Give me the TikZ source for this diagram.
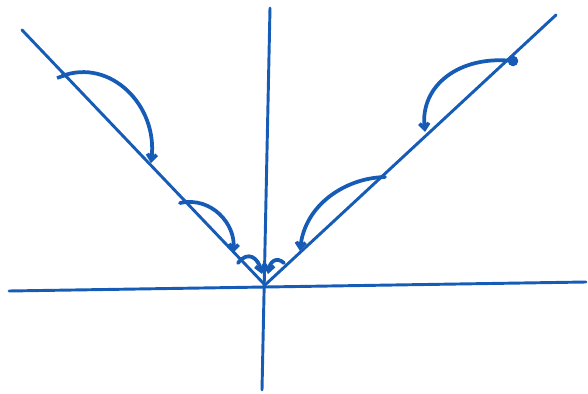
\documentclass[tikz,border=0pt]{standalone}
\usepackage{tikz}
\usetikzlibrary{arrows.meta}

\definecolor{penblue}{RGB}{22,92,182}

\begin{document}
\begin{tikzpicture}[x=0.03cm, y=-0.03cm, penblue,
    hop/.style={line width=3.2pt, -{Straight Barb[length=5pt,width=8pt]}, line cap=round},
    axis/.style={line width=2.5pt, line cap=round}]
          \useasboundingbox (0,0) rectangle (588,394);
          % axes
          \coordinate (O) at (265,285);
          \coordinate (xl) at (9,291);
          \coordinate (xr) at (586,282);
          \coordinate (yt) at (270,8);
          \coordinate (yb) at (262,390);
          \draw[axis] (xl) -- (xr);
          \draw[axis] (yt) -- (yb);
          % the two arms of the V
          \coordinate (L) at (22,30);
          \coordinate (R) at (556,15);
          \draw[axis] (L) -- (O);
          \draw[axis] (R) -- (O);
          % points on the arms
          \coordinate (l1) at (62,76);
          \coordinate (l2) at (151,163);
          \coordinate (l3) at (180,203);
          \coordinate (l4) at (233,253);
          \coordinate (l5) at (238,263);
          \coordinate (l6) at (262,274);
          \coordinate (r1) at (513,61);
          \coordinate (r2) at (425,132);
          \coordinate (r3) at (385,177);
          \coordinate (r4) at (300,251);
          \coordinate (r5) at (284,263);
          \coordinate (r6) at (268,274);
          \fill (r1) circle (4.5pt);
          \draw[line width=3pt] (l1) ++(-5,2) -- ++(9,-3);
          % hops towards the origin
          \draw[hop] (l1) .. controls (110,58) and (158,105) .. (l2);
          \draw[hop] (l3) .. controls (212,196) and (236,225) .. (l4);
          \draw[hop] (l5) .. controls (248,250) and (258,258) .. (l6);
          \draw[hop] (r1) .. controls (460,55) and (420,85) .. (r2);
          \draw[hop] (r3) .. controls (345,178) and (305,205) .. (r4);
          \draw[hop] (r5) .. controls (276,256) and (270,262) .. (r6);
      \end{tikzpicture}
\end{document}
